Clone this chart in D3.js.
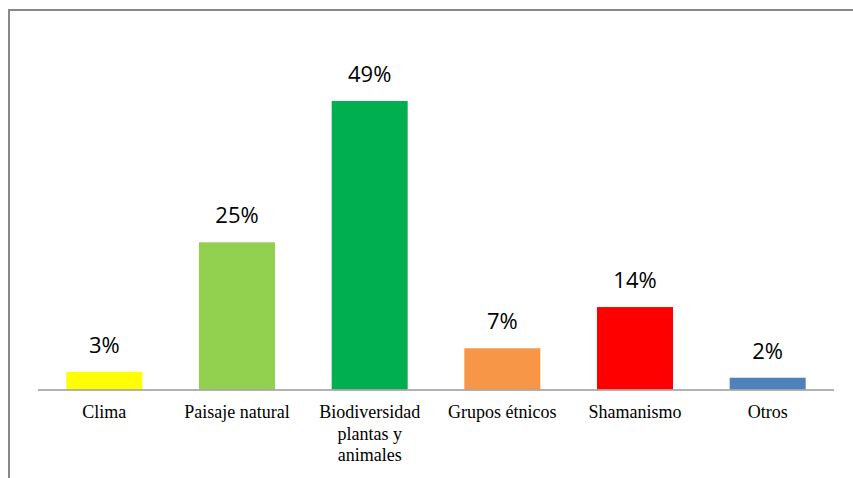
<!DOCTYPE html>
<html><head><meta charset="utf-8">
<script src="https://cdn.jsdelivr.net/npm/d3@7"></script>
<style>html,body{margin:0;padding:0;background:#fff;}svg{display:block;}</style>
</head><body>
<script>
const categories = [["Clima"],["Paisaje natural"],["Biodiversidad","plantas y","animales"],["Grupos étnicos"],["Shamanismo"],["Otros"]];
const values = [3, 25, 49, 7, 14, 2];
const colors = ["#ffff00","#92d050","#00b050","#f79646","#ff0000","#4f81bd"];
const valueLabels = ["3%","25%","49%","7%","14%","2%"];

const W = 853, H = 478;
const svg = d3.select("body").append("svg").attr("width", W).attr("height", H);

// chart frame
svg.append("rect").attr("x", 9).attr("y", 10).attr("width", 860).attr("height", 500)
  .attr("fill", "none").attr("stroke", "#888").attr("stroke-width", 2);

const x = d3.scaleBand().domain(d3.range(categories.length)).range([38, 834]).paddingInner(0.427).paddingOuter(0.2135);
const y = d3.scaleLinear().domain([0, 49]).range([389.5, 101]);

svg.selectAll("rect.bar").data(values).enter().append("rect").attr("class","bar")
  .attr("x", (d,i) => x(i)).attr("width", x.bandwidth())
  .attr("y", d => y(d)).attr("height", d => y(0) - y(d))
  .attr("fill", (d,i) => colors[i]);

// axis line
svg.append("line").attr("x1", 38).attr("x2", 834).attr("y1", 390).attr("y2", 390)
  .attr("stroke", "#999").attr("stroke-width", 1.5);

svg.selectAll("text.val").data(values).enter().append("text").attr("class","val")
  .attr("x", (d,i) => x(i) + x.bandwidth()/2).attr("y", d => y(d) - 19)
  .attr("text-anchor", "middle").attr("font-family", "'Open Sans', sans-serif").attr("font-size", 22)
  .attr("fill", "#000").text((d,i) => valueLabels[i]);

const cat = svg.selectAll("text.cat").data(categories).enter().append("text").attr("class","cat")
  .attr("x", (d,i) => x(i) + x.bandwidth()/2).attr("y", 418)
  .attr("text-anchor", "middle").attr("font-family", "'Liberation Serif', 'Times New Roman', serif").attr("font-size", 18)
  .attr("fill", "#000");
cat.each(function(d, i) {
  const t = d3.select(this);
  d.forEach((line, j) => {
    t.append("tspan").attr("x", x(i) + x.bandwidth()/2).attr("dy", j === 0 ? 0 : 21.5).text(line);
  });
});
</script>
</body></html>
